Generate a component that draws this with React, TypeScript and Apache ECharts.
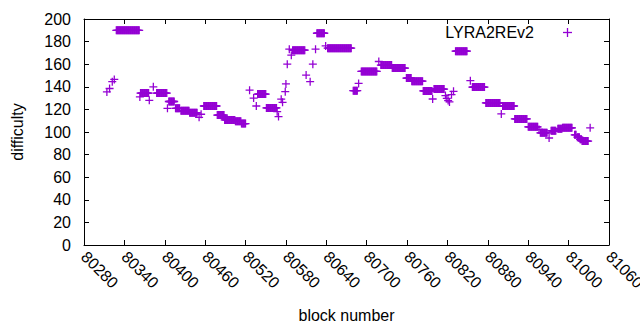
import React, { useEffect, useRef } from "react";
import * as echarts from "echarts";

// Runs of consecutive blocks sharing the same difficulty (start block, end block, value)
const runStart = [
  80314, 80318, 80322, 80325, 80328, 80363, 80364, 80377, 80383, 80388,
  80404, 80406, 80416, 80424, 80437, 80451, 80454, 80458, 80478, 80489,
  80505, 80514, 80526, 80532, 80536, 80538, 80551, 80567, 80569, 80573,
  80575, 80579, 80580, 80582, 80585, 80588, 80590, 80610, 80616, 80620,
  80624, 80626, 80639, 80642, 80680, 80688, 80692, 80718, 80721, 80738,
  80759, 80767, 80784, 80798, 80800, 80817, 80819, 80821, 80823, 80826,
  80829, 80832, 80854, 80857, 80877, 80900, 80902, 80920, 80940, 80956,
  80958, 80971, 80974, 80984, 80991, 81009, 81013, 81017, 81020, 81032,
];
const runEnd = [
  80314, 80318, 80322, 80325, 80362, 80363, 80376, 80377, 80383, 80403,
  80404, 80414, 80422, 80436, 80448, 80451, 80454, 80477, 80488, 80504,
  80513, 80520, 80526, 80532, 80536, 80550, 80566, 80567, 80569, 80573,
  80575, 80579, 80580, 80582, 80585, 80588, 80608, 80610, 80616, 80620,
  80624, 80637, 80639, 80677, 80686, 80688, 80715, 80718, 80737, 80757,
  80766, 80783, 80797, 80798, 80815, 80817, 80819, 80821, 80823, 80826,
  80829, 80849, 80854, 80875, 80898, 80900, 80919, 80938, 80954, 80956,
  80968, 80971, 80981, 80990, 81005, 81011, 81016, 81019, 81029, 81032,
];
const runValue = [
  135.5, 138.5, 144.5, 146.5, 190, 131, 134.5, 128, 140, 134.5,
  121, 127, 121, 118.7, 117, 113, 115.7, 123, 115, 110.7,
  109.5, 107.5, 137, 130, 123, 133.6, 121.3, 118, 113.7, 129,
  126.3, 135.7, 142.5, 160, 173.3, 168, 172.4, 150.4, 144.5, 160,
  173.3, 187.4, 176.2, 174.2, 136.6, 143, 153.6, 162.4, 159.2, 156.6,
  147.7, 145, 136.3, 129.2, 138, 132.2, 129.8, 127.8, 126.6, 133,
  136, 171.5, 145.4, 139.8, 125.7, 116, 123, 111.6, 104.6, 102.2,
  99.3, 94.7, 101, 102.8, 103.7, 97.5, 95.4, 93.5, 92, 103.7,
];

const seriesName = "LYRA2REv2";
const xMin = 80280;
const xMax = 81060;
const xStep = 60;
const yMin = 0;
const yMax = 200;
const yStep = 20;

const COLOR = "#9400d3";
const FONT = "Liberation Sans";
// plus marker in a 10x10 box, arm thickness 1.6 units
const PLUS = "path://M4.2,0H5.8V4.2H10V5.8H5.8V10H4.2V5.8H0V4.2H4.2Z";

function buildPoints(): number[][] {
  const pts: number[][] = [];
  for (let i = 0; i < runStart.length; i++) {
    for (let b = runStart[i]; b <= runEnd[i]; b++) {
      pts.push([b, runValue[i]]);
    }
  }
  return pts;
}

export default function App() {
  const ref = useRef<HTMLDivElement>(null);

  useEffect(() => {
    if (!ref.current) return;
    const chart = echarts.init(ref.current, null, { renderer: "svg" });
    const axisLine = { show: true, onZero: false, lineStyle: { color: "#000", width: 1 } };
    const axisTick = { show: true, inside: true, length: 5, lineStyle: { color: "#000", width: 1 } };
    const labelStyle = { color: "#000", fontSize: 16, fontFamily: FONT };
    const plain = (v: number) => String(v);
    const option: any = {
      animation: false,
      backgroundColor: "#fff",
      grid: { left: 84, right: 31, top: 19, bottom: 85, containLabel: false, outerBoundsMode: "none" },
      xAxis: [
        {
          type: "value",
          position: "bottom",
          min: xMin,
          max: xMax,
          interval: xStep,
          axisLine,
          axisTick,
          splitLine: { show: false },
          axisLabel: { ...labelStyle, rotate: -45, margin: 9, showMaxLabel: true, showMinLabel: true, formatter: plain },
          name: "block number",
          nameLocation: "middle",
          nameGap: 62,
          nameTextStyle: { ...labelStyle },
        },
        {
          type: "value",
          position: "top",
          min: xMin,
          max: xMax,
          interval: xStep,
          axisLine,
          axisTick,
          splitLine: { show: false },
          axisLabel: { show: false },
        },
      ],
      yAxis: [
        {
          type: "value",
          position: "left",
          min: yMin,
          max: yMax,
          interval: yStep,
          axisLine,
          axisTick,
          splitLine: { show: false },
          axisLabel: { ...labelStyle, margin: 13, formatter: plain },
          name: "difficulty",
          nameLocation: "middle",
          nameGap: 59,
          nameTextStyle: { ...labelStyle },
        },
        {
          type: "value",
          position: "right",
          min: yMin,
          max: yMax,
          interval: yStep,
          axisLine,
          axisTick,
          splitLine: { show: false },
          axisLabel: { show: false },
        },
      ],
      series: [
        {
          name: seriesName,
          type: "scatter",
          xAxisIndex: 0,
          yAxisIndex: 0,
          symbol: PLUS,
          symbolSize: 8,
          itemStyle: { color: COLOR, opacity: 1 },
          emphasis: { disabled: true },
          silent: true,
          data: buildPoints(),
        },
      ],
      graphic: [
        {
          type: "text",
          x: 534,
          y: 32,
          style: {
            text: seriesName,
            font: `16px "${FONT}"`,
            fill: "#000",
            textAlign: "right",
            align: "right",
            textVerticalAlign: "middle",
            verticalAlign: "middle",
          },
        },
        {
          type: "line",
          shape: { x1: 563, y1: 32.5, x2: 572, y2: 32.5 },
          style: { stroke: COLOR, lineWidth: 1.3 },
        },
        {
          type: "line",
          shape: { x1: 567.5, y1: 28, x2: 567.5, y2: 37 },
          style: { stroke: COLOR, lineWidth: 1.3 },
        },
      ],
    };
    chart.setOption(option);
    return () => chart.dispose();
  }, []);

  return (
    <div
      ref={ref}
      style={{ position: "absolute", left: 0, top: 0, width: 640, height: 330, background: "#fff" }}
    />
  );
}
